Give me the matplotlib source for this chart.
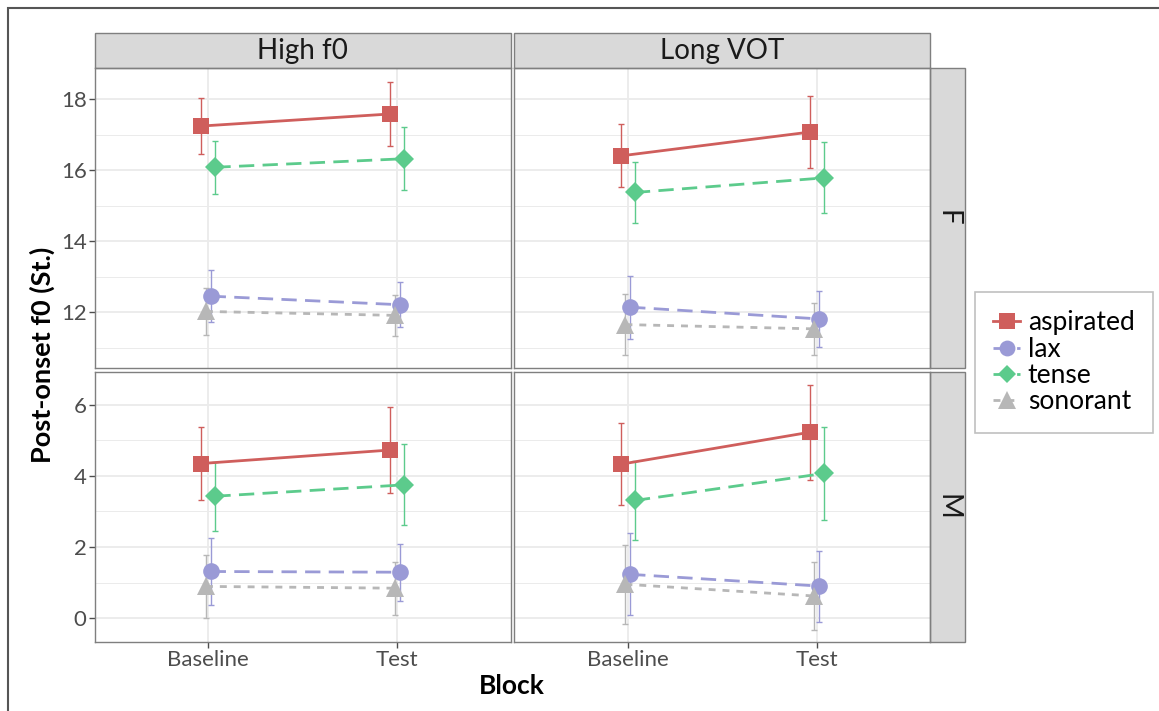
import matplotlib
matplotlib.use("Agg")
import matplotlib.pyplot as plt
import numpy as np
from matplotlib.lines import Line2D
from matplotlib.patches import Rectangle

plt.rcParams['font.family'] = ['Lato', 'DejaVu Sans']

# data: [talker][cue][block]
blocks = ["Baseline", "Test"]
cues = ["High f0", "Long VOT"]
talkers = ["F", "M"]
categories = ["aspirated", "lax", "tense", "sonorant"]

aspirated_mean = [[[17.24, 17.58], [16.40, 17.07]], [[4.35, 4.73], [4.33, 5.23]]]
aspirated_ci = [[[0.79, 0.91], [0.89, 1.02]], [[1.02, 1.20], [1.15, 1.34]]]
lax_mean = [[[12.45, 12.21], [12.14, 11.81]], [[1.31, 1.29], [1.23, 0.90]]]
lax_ci = [[[0.73, 0.64], [0.89, 0.79]], [[0.95, 0.80], [1.15, 1.00]]]
tense_mean = [[[16.08, 16.32], [15.37, 15.78]], [[3.43, 3.75], [3.31, 4.07]]]
tense_ci = [[[0.75, 0.88], [0.86, 1.00]], [[0.97, 1.14], [1.10, 1.30]]]
sonorant_mean = [[[12.02, 11.91], [11.65, 11.53]], [[0.89, 0.84], [0.95, 0.62]]]
sonorant_ci = [[[0.67, 0.58], [0.85, 0.73]], [[0.89, 0.75], [1.11, 0.95]]]

means = {"aspirated": np.array(aspirated_mean), "lax": np.array(lax_mean),
         "tense": np.array(tense_mean), "sonorant": np.array(sonorant_mean)}
cis = {"aspirated": np.array(aspirated_ci), "lax": np.array(lax_ci),
       "tense": np.array(tense_ci), "sonorant": np.array(sonorant_ci)}

# styles
colors = {"aspirated": "#CF5E5C", "lax": "#9A9AD6", "tense": "#5CCB8C", "sonorant": "#B7B7B7"}
markers = {"aspirated": "s", "lax": "o", "tense": "D", "sonorant": "^"}
msizes = {"aspirated": 12, "lax": 12, "tense": 10, "sonorant": 13.5}
dashes = {"aspirated": (None, None), "lax": (5.5, 3), "tense": (5.5, 3), "sonorant": (2.5, 2.5)}
dodge = {"aspirated": -0.0375, "lax": 0.0125, "tense": 0.0375, "sonorant": -0.0125}

W, H = 1159, 711
fig = plt.figure(figsize=(W / 100, H / 100), dpi=100)

# y limits per talker row (free scales, 5% expansion like ggplot)
ylims = []
for t in range(len(talkers)):
    lo = min((means[c][t] - cis[c][t]).min() for c in categories)
    hi = max((means[c][t] + cis[c][t]).max() for c in categories)
    pad = (hi - lo) * 0.05
    ylims.append((lo - pad, hi + pad))
heights = [b - a for a, b in ylims]

gs = fig.add_gridspec(2, 2, left=95 / W, right=930 / W, top=1 - 68 / H, bottom=1 - 642 / H,
                      wspace=0.0096, hspace=0.014, height_ratios=heights)

grid_col = "#EBEBEB"
x = np.arange(len(blocks)) + 1

for t, talker in enumerate(talkers):
    for k, cue in enumerate(cues):
        ax = fig.add_subplot(gs[t, k])
        ax.set_xlim(0.4, 2.6)
        ax.set_ylim(*ylims[t])
        lo, hi = ylims[t]
        major = np.arange(np.ceil(lo / 2) * 2, hi, 2) + 0.0
        minor = np.arange(np.floor(lo / 2) * 2 + 1, hi, 2)
        minor = minor[minor > lo]
        ax.set_yticks(major)
        ax.set_yticks(minor, minor=True)
        ax.set_xticks(x)
        ax.grid(True, which="major", color=grid_col, linewidth=1.3, zorder=0)
        ax.grid(True, which="minor", axis="y", color=grid_col, linewidth=0.7, zorder=0)
        ax.set_axisbelow(True)
        ax.tick_params(which="minor", length=0)
        ax.tick_params(which="major", length=4, width=1, color="#4D4D4D",
                       labelcolor="#4D4D4D", labelsize=16, pad=2)
        if k == 0:
            ax.set_yticklabels([f"{abs(v) if v == 0 else v:g}" for v in major])
        else:
            ax.set_yticklabels([])
            ax.tick_params(axis="y", length=0)
        if t == 1:
            ax.set_xticklabels(blocks)
        else:
            ax.set_xticklabels([])
            ax.tick_params(axis="x", length=0)
        for s in ax.spines.values():
            s.set_color("#7F7F7F")
            s.set_linewidth(1.0)

        for c in categories:
            xs = x + dodge[c]
            m = means[c][t][k]
            e = cis[c][t][k]
            ax.errorbar(xs, m, yerr=e, fmt="none", ecolor=colors[c], elinewidth=1.0,
                        capsize=2, capthick=1.0, zorder=2)
            ln, = ax.plot(xs, m, color=colors[c], linewidth=2.0, zorder=3)
            if dashes[c][0] is not None:
                ln.set_dashes(dashes[c])
            ax.plot(xs, m, linestyle="none", marker=markers[c], markersize=msizes[c],
                    color=colors[c], markeredgewidth=0, zorder=4)

        # facet strips
        if t == 0:
            sh = 35 / (ax.get_position().height * H)
            ax.add_patch(Rectangle((0, 1), 1, sh, transform=ax.transAxes, clip_on=False,
                                   facecolor="#D9D9D9", edgecolor="#7F7F7F", linewidth=1.0))
            ax.text(0.5, 1 + sh / 2, cue, transform=ax.transAxes, ha="center", va="center",
                    fontsize=20, color="#1A1A1A")
        if k == 1:
            sw = 35 / (ax.get_position().width * W)
            ax.add_patch(Rectangle((1, 0), sw, 1, transform=ax.transAxes, clip_on=False,
                                   facecolor="#D9D9D9", edgecolor="#7F7F7F", linewidth=1.0))
            ax.text(1 + sw / 2, 0.5, talker, transform=ax.transAxes, ha="center", va="center",
                    fontsize=20, color="#1A1A1A", rotation=-90)

fig.text(512 / W, 1 - 686 / H, "Block", ha="center", va="center", fontsize=19, fontweight="bold")
fig.text(42 / W, 1 - 355 / H, "Post-onset f0 (St.)", ha="center", va="center", fontsize=19.5,
         fontweight="bold", rotation=90)

handles = []
for c in categories:
    h = Line2D([], [], color=colors[c], marker=markers[c], markersize=msizes[c] * 0.95,
               markeredgewidth=0, linewidth=2.0)
    if dashes[c][0] is not None:
        h.set_dashes(dashes[c])
    handles.append(h)
leg = fig.legend(handles, categories, loc="upper left", bbox_to_anchor=(975 / W, 1 - 292 / H),
                 frameon=True, fancybox=False, fontsize=19, handlelength=1.0, handletextpad=0.3,
                 labelspacing=0.05, borderpad=0.7, borderaxespad=0)
leg.get_frame().set_edgecolor("#B0B0B0")
leg.get_frame().set_linewidth(1.2)

# outer frame of the original image
fig.patches.append(Rectangle((8 / W, -0.05), 1.1, 1 - 8 / H + 0.05, transform=fig.transFigure,
                             fill=False, edgecolor="#555555", linewidth=1.5, zorder=-1))

fig.savefig("out.png", dpi=100)
